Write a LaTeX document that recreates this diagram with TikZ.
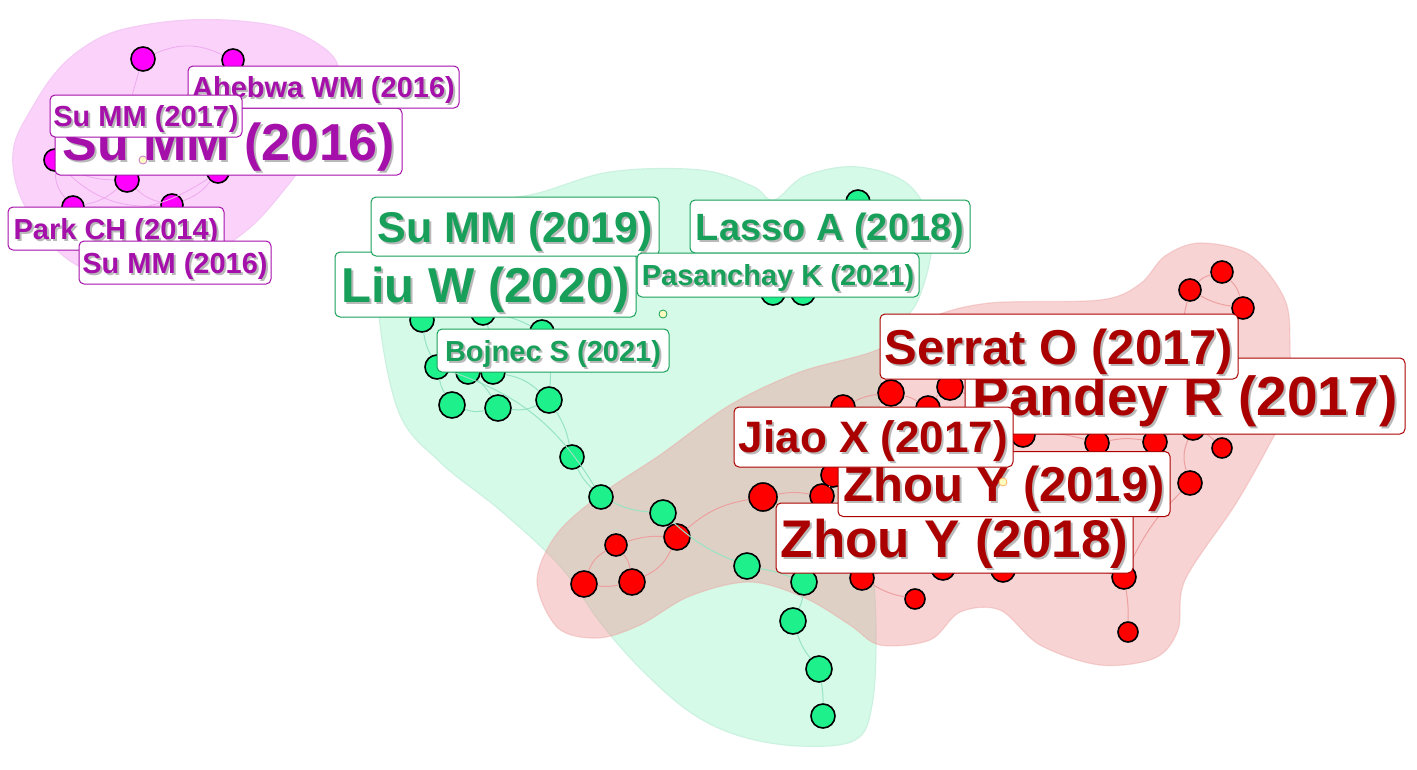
\documentclass[tikz,border=0pt]{standalone}
\usepackage{fontspec}
\setmainfont{Liberation Sans}
\definecolor{pinkblob}{RGB}{250,210,250}
\definecolor{greenblob}{RGB}{214,250,232}
\definecolor{redblobc}{RGB}{239,142,142}
\definecolor{magnode}{RGB}{255,0,255}
\definecolor{grnnode}{RGB}{30,240,140}
\definecolor{rednode}{RGB}{255,0,0}
\definecolor{magtext}{RGB}{165,15,170}
\definecolor{grntext}{RGB}{24,160,90}
\definecolor{redtext}{RGB}{170,0,0}
\definecolor{magedge}{RGB}{238,170,238}
\definecolor{grnedge}{RGB}{150,228,195}
\definecolor{rededge}{RGB}{236,160,160}
\definecolor{shadowc}{RGB}{185,185,185}
\newcommand\lfs[1]{\fontsize{#1}{#1}\selectfont\bfseries}
\newcommand\shd[1]{\leavevmode\rlap{\kern2pt\raisebox{-2pt}{\textcolor{shadowc}{#1}}}#1}
\begin{document}
\begin{tikzpicture}[x=1pt,y=-1pt,
  pn/.style={circle,draw=black,line width=1.6pt,fill=magnode,inner sep=0pt,minimum size=22pt},
  gn/.style={circle,draw=black,line width=1.6pt,fill=grnnode,inner sep=0pt,minimum size=24pt},
  rn/.style={circle,draw=black,line width=1.6pt,fill=rednode,inner sep=0pt,minimum size=24pt},
  lab/.style={rounded corners=5pt,fill=white,line width=1pt,inner sep=0pt,align=center,text depth=0pt},
  plab/.style={lab,draw=magtext,text=magtext},
  glab/.style={lab,draw=grntext,text=grntext},
  rlab/.style={lab,draw=redtext,text=redtext},
  pe/.style={draw=magedge,line width=0.8pt},
  ge/.style={draw=grnedge,line width=1pt},
  re/.style={draw=rededge,line width=1pt},
  dot/.style={circle,inner sep=0pt,minimum size=8pt,line width=0.8pt,fill=yellow!25}
]
\useasboundingbox (0,0) rectangle (1417,769);
\fill[white] (0,0) rectangle (1417,769);
% ---------- cluster areas ----------
\path[fill=pinkblob,draw=magedge!60,line width=1.2pt] plot[smooth cycle,tension=0.7] coordinates {(13,165) (32,108) (80,50) (150,24) (250,22) (315,42) (340,78) (320,135) (284,190) (234,240) (162,276) (92,272) (40,230)};
\path[fill=greenblob,draw=grnedge!50,line width=1.2pt] plot[smooth cycle,tension=0.6] coordinates {(378,300) (392,240) (440,207) (530,195) (610,172) (700,170) (752,186) (774,200) (805,176) (858,167) (910,186) (932,235) (918,300) (886,345) (878,430) (872,530) (876,630) (872,705) (855,740) (800,746) (740,736) (690,712) (640,668) (600,622) (560,566) (500,510) (440,462) (398,410)};
\path[fill=redblobc,fill opacity=0.39,draw=rededge,draw opacity=0.4,line width=1.2pt] plot[smooth cycle,tension=0.55] coordinates {(537,582) (556,535) (600,495) (660,455) (730,405) (800,372) (877,350) (930,318) (990,303) (1100,300) (1140,284) (1165,256) (1200,243) (1250,255) (1285,300) (1290,350) (1288,405) (1268,447) (1235,505) (1185,580) (1178,630) (1155,658) (1100,665) (1040,645) (1000,610) (960,612) (930,640) (880,645) (850,625) (805,598) (750,582) (690,596) (640,625) (598,638) (558,628)};
% ---------- nodes ----------
% pink
\node[pn,minimum size=24pt] (p1) at (143,59) {};
\node[pn] (p2) at (233,60) {};
\node[pn] (p3) at (55,160) {};
\node[pn,minimum size=24pt] (p4) at (127,180) {};
\node[pn] (p5) at (218,172) {};
\node[pn] (p6) at (73,207) {};
\node[pn] (p7) at (172,205) {};
% green
\node[gn] (g1) at (422,320) {};
\node[gn] (g2) at (483,313) {};
\node[gn] (g3) at (542,332) {};
\node[gn] (g4) at (437,367) {};
\node[gn] (g5) at (468,372) {};
\node[gn] (g6) at (493,372) {};
\node[gn,minimum size=26pt] (g7) at (452,405) {};
\node[gn,minimum size=26pt] (g8) at (498,408) {};
\node[gn,minimum size=26pt] (g9) at (549,400) {};
\node[gn] (g10) at (572,457) {};
\node[gn] (g11) at (601,497) {};
\node[gn,minimum size=26pt] (g12) at (663,513) {};
\node[gn,minimum size=26pt] (g13) at (747,566) {};
\node[gn,minimum size=26pt] (g14) at (804,582) {};
\node[gn,minimum size=26pt] (g15) at (793,621) {};
\node[gn,minimum size=26pt] (g16) at (819,669) {};
\node[gn] (g17) at (823,716) {};
\node[gn] (g18) at (858,202) {};
\node[gn] (g19) at (773,293) {};
\node[gn] (g20) at (803,293) {};
% red
\node[rn,minimum size=26pt] (r1) at (677,537) {};
\node[rn,minimum size=22pt] (r2) at (616,545) {};
\node[rn,minimum size=26pt] (r3) at (584,584) {};
\node[rn,minimum size=26pt] (r4) at (632,582) {};
\node[rn,minimum size=28pt] (r5) at (763,497) {};
\node[rn] (r6) at (822,496) {};
\node[rn] (r7) at (833,475) {};
\node[rn] (r8) at (862,578) {};
\node[rn,minimum size=20pt] (r9) at (915,599) {};
\node[rn,minimum size=26pt] (r10) at (891,393) {};
\node[rn] (r11) at (843,407) {};
\node[rn] (r12) at (928,408) {};
\node[rn,minimum size=26pt] (r13) at (950,387) {};
\node[rn] (r14) at (1023,435) {};
\node[rn] (r15) at (1097,443) {};
\node[rn] (r16) at (1155,442) {};
\node[rn,minimum size=20pt] (r17) at (1222,448) {};
\node[rn] (r18) at (1190,483) {};
\node[rn] (r19) at (1124,577) {};
\node[rn,minimum size=20pt] (r20) at (1128,632) {};
\node[rn,minimum size=22pt] (r21) at (1190,290) {};
\node[rn,minimum size=22pt] (r22) at (1222,272) {};
\node[rn,minimum size=22pt] (r23) at (1243,308) {};
\node[rn] (r24) at (943,568) {};
\node[rn] (r25) at (1003,570) {};
\node[rn] (r26) at (1193,428) {};
% ---------- edges ----------
\path[pe] (p1) to[bend left=25] (p2);
\path[pe] (p1) to[bend right=10] (p4);
\path[pe] (p2) to[bend left=10] (p5);
\path[pe] (p3) to[bend right=15] (p4);
\path[pe] (p3) to[bend right=20] (p6);
\path[pe] (p3) to[bend right=25] (p7);
\path[pe] (p4) to[bend left=15] (p6);
\path[pe] (p4) to[bend right=15] (p7);
\path[pe] (p5) to[bend left=15] (p7);
\path[pe] (p5) to[bend left=20] (p6);
\path[pe] (p3) to[bend left=20] (p5);
\path[pe] (p6) to[bend right=20] (p7);
\path[ge] (g9) to[bend left=10] (g10);
\path[ge] (g10) to[bend right=10] (g11);
\path[ge] (g11) to[bend right=10] (g12);
\path[ge] (g12) to[bend right=10] (g13);
\path[ge] (g13) to[bend left=5] (g14);
\path[ge] (g14) to[bend left=10] (g15);
\path[ge] (g15) to[bend right=10] (g16);
\path[ge] (g16) to[bend left=5] (g17);
\path[ge] (g4) to[bend right=10] (g7);
\path[ge] (g7) to[bend right=15] (g8);
\path[ge] (g8) to[bend right=15] (g9);
\path[ge] (g1) to[bend right=10] (g4);
\path[ge] (g2) to[bend left=10] (g3);
\path[ge] (g3) to[bend left=10] (g9);
\path[ge] (g5) to[bend left=10] (g8);
\path[ge] (g6) to[bend left=15] (g9);
\path[ge] (g2) to[bend left=10] (g6);
\path[ge] (g19) to[bend left=15] (g20);
\path[ge] (g20) to[bend right=10] (g18);
\path[ge] (g11) to[bend right=20] (g4);
\path[re] (r2) to[bend left=10] (r1);
\path[re] (r2) to[bend right=20] (r3);
\path[re] (r3) to[bend right=10] (r4);
\path[re] (r4) to[bend right=20] (r1);
\path[re] (r2) to[bend left=15] (r4);
\path[re] (r1) to[bend left=15] (r5);
\path[re] (r5) to[bend left=10] (r6);
\path[re] (r6) to[bend right=10] (r7);
\path[re] (r7) to[bend left=10] (r11);
\path[re] (r11) to[bend left=10] (r10);
\path[re] (r10) to[bend left=10] (r12);
\path[re] (r12) to[bend left=10] (r13);
\path[re] (r13) to[bend left=10] (r14);
\path[re] (r14) to[bend left=10] (r15);
\path[re] (r15) to[bend left=10] (r16);
\path[re] (r16) to[bend left=10] (r26);
\path[re] (r26) to[bend left=10] (r17);
\path[re] (r26) to[bend right=20] (r18);
\path[re] (r18) to[bend right=10] (r19);
\path[re] (r19) to[bend left=5] (r20);
\path[re] (r21) to[bend left=15] (r22);
\path[re] (r22) to[bend left=15] (r23);
\path[re] (r21) to[bend right=10] (r23);
\path[re] (r21) to[bend right=15] (r26);
\path[re] (r8) to[bend right=10] (r9);
\path[re] (r8) to[bend left=10] (r24);
\path[re] (r24) to[bend left=10] (r25);
\path[re] (r25) to[bend left=10] (r19);
\path[re] (r6) to[bend right=10] (r8);
% ---------- labels ----------
\node[plab,minimum width=347pt,minimum height=67pt,font=\lfs{52}] (l3) at (228.5,141.5) {\shd{Su MM (2016)}};
\node[plab,minimum width=271pt,minimum height=42pt,font=\lfs{29}] (l1) at (323.5,87) {\shd{Ahebwa WM (2016)}};
\node[plab,minimum width=192pt,minimum height=42pt,font=\lfs{29}] (l2) at (146,116) {\shd{Su MM (2017)}};
\node[plab,minimum width=216pt,minimum height=43pt,font=\lfs{29}] (l4) at (116,228.5) {\shd{Park CH (2014)}};
\node[plab,minimum width=192pt,minimum height=43pt,font=\lfs{29}] (l5) at (175,262.5) {\shd{Su MM (2016)}};
\node[glab,minimum width=301pt,minimum height=65pt,font=\lfs{49}] (l7) at (485.5,284.5) {\shd{Liu W (2020)}};
\node[glab,minimum width=288pt,minimum height=59pt,font=\lfs{43}] (l6) at (515,226.5) {\shd{Su MM (2019)}};
\node[glab,minimum width=280pt,minimum height=53pt,font=\lfs{38}] (l8) at (830,226.5) {\shd{Lasso A (2018)}};
\node[glab,minimum width=282pt,minimum height=44pt,font=\lfs{29}] (l9) at (778,275) {\shd{Pasanchay K (2021)}};
\node[glab,minimum width=232pt,minimum height=43pt,font=\lfs{29}] (l10) at (553,350.5) {\shd{Bojnec S (2021)}};
\node[rlab,minimum width=357pt,minimum height=70pt,font=\lfs{53}] (l15) at (954.5,538) {\shd{Zhou Y (2018)}};
\node[rlab,minimum width=332pt,minimum height=65pt,font=\lfs{49}] (l14) at (1004,484) {\shd{Zhou Y (2019)}};
\node[rlab,minimum width=440pt,minimum height=76pt,font=\lfs{55}] (l12) at (1185,396) {\shd{Pandey R (2017)}};
\node[rlab,minimum width=358pt,minimum height=65pt,font=\lfs{49}] (l11) at (1059,346.5) {\shd{Serrat O (2017)}};
\node[rlab,minimum width=279pt,minimum height=60pt,font=\lfs{44}] (l13) at (873.5,437) {\shd{Jiao X (2017)}};
% small hollow nodes
\node[dot,draw=magtext!60] (ps) at (143,160) {};
\node[dot,draw=grntext] (gs) at (663,314) {};
\node[dot,draw=orange!60] (rs) at (1003,482) {};
\end{tikzpicture}
\end{document}
